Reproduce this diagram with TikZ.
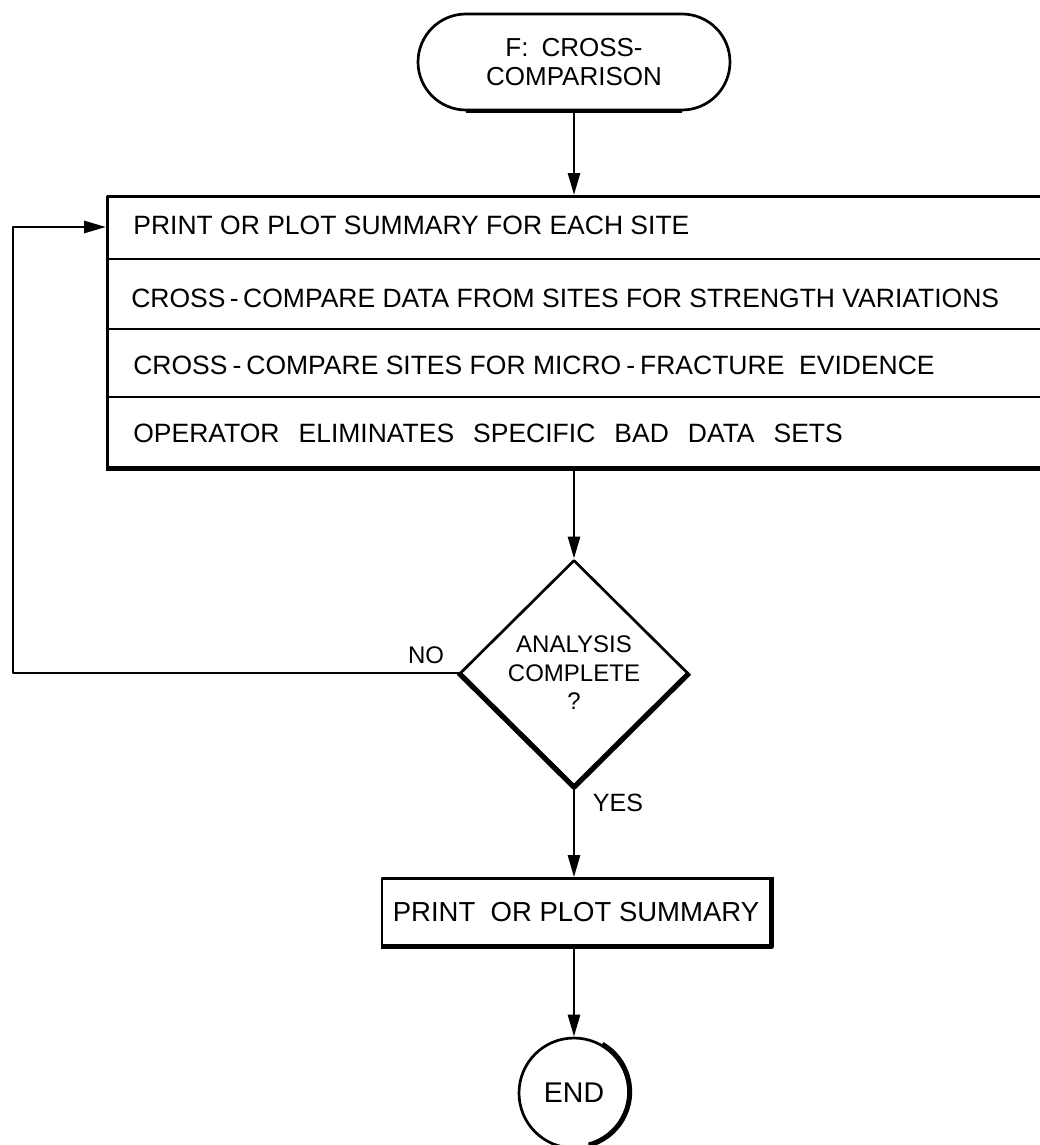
\documentclass[tikz,border=0pt]{standalone}
\usepackage{fontspec}
\setmainfont{Liberation Sans}
\usetikzlibrary{shapes.geometric,shapes.misc,arrows.meta}

\newcommand{\dashgap}{\hspace{5pt}-\hspace{5pt}}

\begin{document}
\begin{tikzpicture}[x=1pt,y=-1pt,line width=2.7pt,line join=round,
  flow/.style={-{Triangle[length=22pt,width=12pt]}},
  heavy/.style={line width=5pt},
  rowtext/.style={anchor=west,inner sep=0pt,font=\fontsize{26.5}{30}\selectfont},
  lbl/.style={inner sep=0pt,font=\fontsize{24}{28}\selectfont},
]
\useasboundingbox (0,0) rectangle (1039,1145);

% start terminal
\node[draw,rounded rectangle,minimum width=312pt,minimum height=96pt,inner sep=0pt,
      align=center,font=\fontsize{26}{29}\selectfont] (start) at (574,62)
      {F:\enspace CROSS-\\COMPARISON};
\draw[line width=4pt] ([xshift=-108pt]start.south) -- ([xshift=108pt]start.south);

% multi-step process block (runs past the right margin)
\node[draw,anchor=north west,minimum width=990pt,minimum height=271pt,inner sep=0pt] (steps) at (106,195) {};
\draw[heavy] (steps.south west) -- (steps.south east);
\draw (106,259) -- (1096,259);
\draw (106,329) -- (1096,329);
\draw (106,397) -- (1096,397);
\node[rowtext] (row1) at (132,225) {PRINT OR PLOT SUMMARY FOR EACH SITE};
\node[rowtext] (row2) at (130,298) {CROSS\,-\,COMPARE DATA FROM SITES FOR STRENGTH VARIATIONS};
\node[rowtext] (row3) at (132,365) {CROSS\dashgap COMPARE SITES FOR MICRO\dashgap FRACTURE\ \ EVIDENCE};
\node[rowtext] (row4) at (132,433) {\spaceskip=19pt OPERATOR ELIMINATES SPECIFIC BAD DATA SETS};

% decision
\node[draw,diamond,aspect=1,minimum width=228pt,minimum height=226pt,inner sep=0pt,
      align=center,font=\fontsize{24}{28.5}\selectfont] (dec) at (574,673)
      {ANALYSIS\\COMPLETE\\?};
\draw[heavy] (dec.west) -- (dec.south) -- (dec.east);

% final summary
\node[draw,minimum width=388pt,minimum height=67pt,inner sep=0pt,
      font=\fontsize{27.5}{32}\selectfont] (summ) at (576,912) {PRINT\ \ OR PLOT SUMMARY};
\draw[heavy] (summ.north east) -- (summ.south east) -- (summ.south west);

% end
\node[draw,circle,minimum size=110pt,inner sep=0pt,font=\fontsize{28.5}{32}\selectfont] (endc) at (574,1093) {END};
\draw[heavy] (endc.60) arc[start angle=60,end angle=-75,radius=55pt];

% connectors
\draw[flow] (start.south) -- (start.south |- steps.north);
\draw[flow] (steps.south -| dec.north) -- (dec.north);
\draw[flow] (dec.south) -- (summ.north -| dec.south);
\draw[flow] (summ.south -| endc.north) -- (endc.north);
\coordinate (loopleft) at (13,227);
\coordinate (loopin) at (106,227);
\draw[flow] (dec.west) -| (loopleft) -- (loopin);

% branch labels
\node[lbl] (no) at (426,655) {NO};
\node[lbl,font=\fontsize{25}{28}\selectfont] (yes) at (618,803) {YES};
\end{tikzpicture}
\end{document}
